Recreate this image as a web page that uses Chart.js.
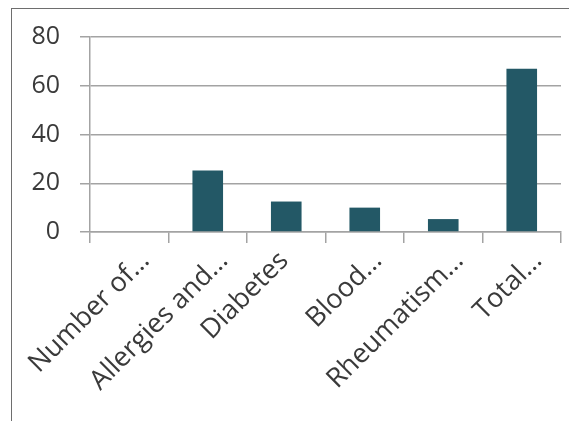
<!DOCTYPE html>
<html>
<head>
<meta charset="utf-8">
<script src="https://cdn.jsdelivr.net/npm/chart.js@4/dist/chart.umd.min.js"></script>
<style>
  html, body { margin: 0; padding: 0; background: #fff; overflow: hidden; }
  #wrap { position: relative; width: 569px; height: 421px; }
  #frame {
    position: absolute; left: 11px; top: 8px; width: 600px; height: 500px;
    border-left: 1px solid #6e6e6e; border-top: 1px solid #6e6e6e;
    box-sizing: border-box; pointer-events: none;
  }
  canvas { position: absolute; left: 0; top: 0; }
</style>
</head>
<body>
<div id="wrap">
  <canvas id="c" width="569" height="421"></canvas>
  <div id="frame"></div>
</div>
<script>
const categories = ['Number of…', 'Allergies and…', 'Diabetes', 'Blood…', 'Rheumatism…', 'Total…'];
const values = [0, 25.2, 12.5, 10, 5.3, 67];
const yTicks = [0, 20, 40, 60, 80];

// extra horizontal nudge (px) for individual category labels
const labelShift = [0, 0, -18, -3, 0, 0];

const FONT = '"Open Sans", "DejaVu Sans", sans-serif';
const TEXT = '#3a3a3a';
const GRID = '#a3a3a3';

const nudgeLabels = {
  id: 'nudgeLabels',
  beforeDraw(chart) {
    const items = chart.scales.x.getLabelItems();
    if (items._nudged) return;
    items.forEach((it, i) => { it.options.translation[0] += labelShift[i] || 0; });
    items._nudged = true;
  }
};

new Chart(document.getElementById('c'), {
  type: 'bar',
  data: {
    labels: categories,
    datasets: [{
      data: values,
      backgroundColor: '#235866',
      borderWidth: 0,
      categoryPercentage: 1,
      barPercentage: 0.39
    }]
  },
  options: {
    responsive: false,
    animation: false,
    events: [],
    layout: { padding: { top: 37, right: 8, left: 0, bottom: 0 } },
    plugins: { legend: { display: false }, tooltip: { enabled: false } },
    scales: {
      x: {
        grid: {
          offset: true,
          drawOnChartArea: false,
          drawTicks: true,
          tickLength: 11,
          color: GRID,
          lineWidth: 1.5
        },
        border: { display: true, color: GRID, width: 1.5 },
        ticks: {
          autoSkip: false,
          minRotation: 45,
          maxRotation: 45,
          labelOffset: 16,
          color: TEXT,
          padding: 2,
          font: { family: FONT, size: 27 }
        },
        afterFit(scale) { scale.height = 421 - 37 - 195; }
      },
      y: {
        min: 0,
        max: 80,
        afterBuildTicks(scale) { scale.ticks = yTicks.map(v => ({ value: v })); },
        grid: {
          drawTicks: true,
          tickLength: 10,
          color: GRID,
          lineWidth: 1.5
        },
        border: { display: true, color: GRID, width: 1.5 },
        ticks: {
          color: TEXT,
          padding: 20,
          font: { family: FONT, size: 25 }
        },
        afterFit(scale) { scale.width = 90; }
      }
    }
  },
  plugins: [nudgeLabels]
});
</script>
</body>
</html>
